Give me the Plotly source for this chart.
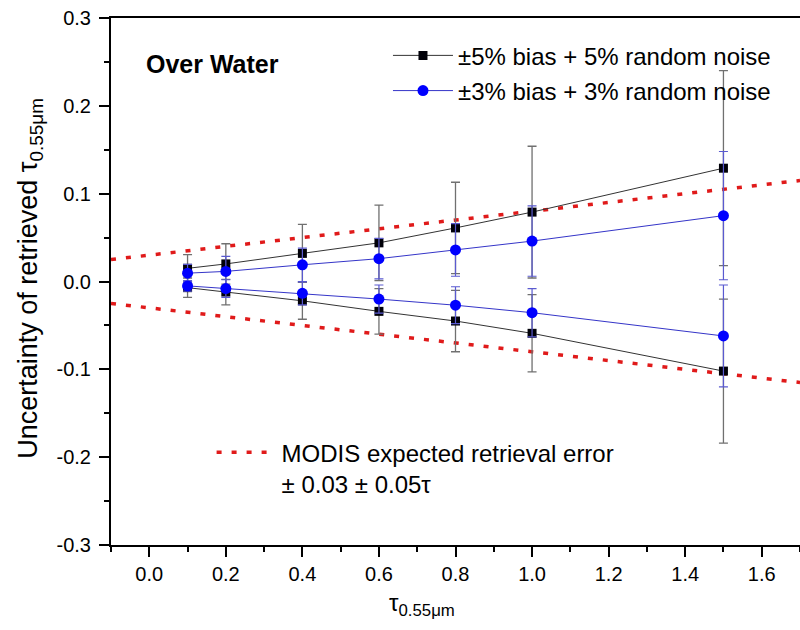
import plotly.graph_objects as go

# ---- data ----
tau = [0.1, 0.2, 0.4, 0.6, 0.8, 1.0, 1.5]

b5_up = [0.015, 0.020, 0.032, 0.044, 0.061, 0.079, 0.129]
b5_up_err = [0.0155, 0.023, 0.033, 0.043, 0.052, 0.075, 0.111]
b5_lo = [-0.007, -0.012, -0.022, -0.034, -0.045, -0.059, -0.102]
b5_lo_err = [0.011, 0.0145, 0.021, 0.026, 0.035, 0.044, 0.082]

b3_up = [0.0095, 0.0115, 0.019, 0.026, 0.036, 0.046, 0.075]
b3_up_err = [0.010, 0.017, 0.019, 0.023, 0.030, 0.040, 0.073]
b3_lo = [-0.005, -0.008, -0.0135, -0.020, -0.027, -0.0355, -0.062]
b3_lo_err = [0.006, 0.010, 0.013, 0.016, 0.021, 0.0275, 0.058]

modis_x = [-0.1, 1.7]
modis_offset = 0.03
modis_slope = 0.05
modis_up = [modis_offset + modis_slope * t for t in modis_x]
modis_lo = [-(modis_offset + modis_slope * t) for t in modis_x]

x_ticks = [0.0, 0.2, 0.4, 0.6, 0.8, 1.0, 1.2, 1.4, 1.6]
x_ticklabels = ["0.0", "0.2", "0.4", "0.6", "0.8", "1.0", "1.2", "1.4", "1.6"]
y_ticks = [-0.3, -0.2, -0.1, 0.0, 0.1, 0.2, 0.3]
y_ticklabels = ["-0.3", "-0.2", "-0.1", "0.0", "0.1", "0.2", "0.3"]

FONT = "Liberation Sans, Arial, sans-serif"

fig = go.Figure()

# MODIS envelope
fig.add_trace(go.Scatter(x=modis_x, y=modis_up, mode="lines",
                         line=dict(color="#e01a1a", width=3.5, dash="5px,10px"),
                         name="MODIS expected retrieval error<br>± 0.03 ± 0.05τ",
                         legend="legend2", showlegend=True))
fig.add_trace(go.Scatter(x=modis_x, y=modis_lo, mode="lines",
                         line=dict(color="#e01a1a", width=3.5, dash="5px,10px"),
                         legend="legend2", showlegend=False))

black_line = dict(color="#333333", width=1)
black_marker = dict(symbol="square", size=9, color="#000008")
black_err = dict(color="#707070", thickness=1.3, width=4.5)

blue_line = dict(color="#3535c8", width=1)
blue_marker = dict(symbol="circle", size=11, color="#0000ff")
blue_err = dict(color="#5a5ad0", thickness=1.2, width=4.5)

fig.add_trace(go.Scatter(x=tau, y=b5_up, mode="lines+markers", line=black_line,
                         marker=black_marker,
                         error_y=dict(type="data", array=b5_up_err, **black_err),
                         name="±5% bias + 5% random noise", legendgroup="b5"))
fig.add_trace(go.Scatter(x=tau, y=b5_lo, mode="lines+markers", line=black_line,
                         marker=black_marker,
                         error_y=dict(type="data", array=b5_lo_err, **black_err),
                         showlegend=False, legendgroup="b5"))
fig.add_trace(go.Scatter(x=tau, y=b3_up, mode="lines+markers", line=blue_line,
                         marker=blue_marker,
                         error_y=dict(type="data", array=b3_up_err, **blue_err),
                         name="±3% bias + 3% random noise", legendgroup="b3"))
fig.add_trace(go.Scatter(x=tau, y=b3_lo, mode="lines+markers", line=blue_line,
                         marker=blue_marker,
                         error_y=dict(type="data", array=b3_lo_err, **blue_err),
                         showlegend=False, legendgroup="b3"))

fig.update_layout(
    width=800, height=630,
    margin=dict(l=111, r=0, t=18, b=85),
    paper_bgcolor="white", plot_bgcolor="white",
    font=dict(family=FONT, color="black", size=20),
    legend=dict(x=0.402, y=0.971, xanchor="left", yanchor="top",
                font=dict(family=FONT, size=24, color="black"),
                itemwidth=60, bgcolor="rgba(0,0,0,0)", tracegroupgap=1),
    legend2=dict(x=0.146, y=0.218, xanchor="left", yanchor="top",
                 font=dict(family=FONT, size=24, color="black"),
                 itemwidth=60, bgcolor="rgba(0,0,0,0)", valign="top"),
    xaxis=dict(range=[-0.1, 1.7], tickvals=x_ticks, ticktext=x_ticklabels,
               showgrid=False, zeroline=False, showline=True, linecolor="black",
               linewidth=2, mirror=True, ticks="outside", ticklen=10, tickwidth=2,
               tickcolor="black", tickfont=dict(size=20),
               minor=dict(dtick=0.1, tick0=0, ticks="outside", ticklen=5,
                          tickwidth=2, tickcolor="black")),
    yaxis=dict(range=[-0.3, 0.3], tickvals=y_ticks, ticktext=y_ticklabels,
               showgrid=False, zeroline=False, showline=True, linecolor="black",
               linewidth=2, ticks="outside", ticklen=10, tickwidth=2,
               tickcolor="black", tickfont=dict(size=20), ticklabelstandoff=4,
               minor=dict(dtick=0.05, tick0=0, ticks="outside", ticklen=5,
                          tickwidth=2, tickcolor="black")),
    annotations=[
        dict(text="<b>Over Water</b>", x=0.048, y=0.912, xref="paper", yref="paper",
             xanchor="left", yanchor="middle", showarrow=False,
             font=dict(family=FONT, size=25, color="black")),
        dict(text="τ<sub>0.55μm</sub>", x=0.451, y=-0.08, xref="paper", yref="paper",
             xanchor="center", yanchor="top", showarrow=False,
             font=dict(family=FONT, size=24, color="black")),
        dict(text="Uncertainty of retrieved τ<sub>0.55μm</sub>", x=-0.1176, y=0.507,
             xref="paper", yref="paper", xanchor="center", yanchor="middle",
             textangle=-90, showarrow=False,
             font=dict(family=FONT, size=27, color="black")),
    ],
)

fig.write_html("out.html")
